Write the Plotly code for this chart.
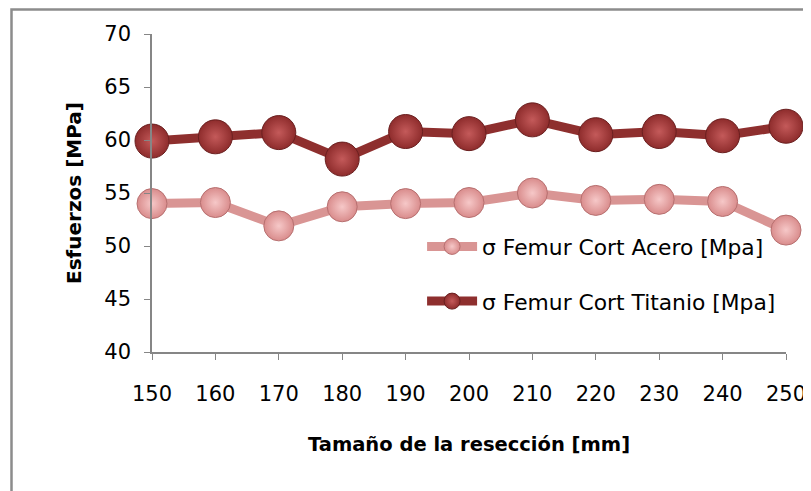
import plotly.graph_objects as go

x_vals = [150, 160, 170, 180, 190, 200, 210, 220, 230, 240, 250]
acero = [54.0, 54.1, 51.9, 53.7, 54.0, 54.1, 55.0, 54.3, 54.4, 54.2, 51.5]
titanio = [59.9, 60.3, 60.7, 58.2, 60.8, 60.6, 61.9, 60.5, 60.8, 60.4, 61.3]
y_ticks = [40, 45, 50, 55, 60, 65, 70]
name_acero = "σ Femur Cort Acero [Mpa]"
name_titanio = "σ Femur Cort Titanio [Mpa]"

FONT = "DejaVu Sans"

fig = go.Figure()
fig.add_trace(go.Scatter(
    x=x_vals, y=titanio, name=name_titanio, mode="lines+markers",
    line=dict(color="#8E2F2E", width=9),
    marker=dict(size=34, color="#8E2C2C",
                gradient=dict(type="radial", color="#C45A5A"),
                line=dict(color="#6A1F1F", width=1)),
    cliponaxis=False, legend="legend2",
))
fig.add_trace(go.Scatter(
    x=x_vals, y=acero, name=name_acero, mode="lines+markers",
    line=dict(color="#D99594", width=9),
    marker=dict(size=30, color="#D98C8C",
                gradient=dict(type="radial", color="#F6C8C8"),
                line=dict(color="#B77070", width=1)),
    cliponaxis=False, legend="legend",
))

fig.update_layout(
    width=811, height=491,
    margin=dict(l=144, r=33, t=26, b=147),
    paper_bgcolor="white", plot_bgcolor="white",
    font=dict(family=FONT, size=21, color="black"),
    showlegend=True,
    legend=dict(x=0.426, y=0.397, xanchor="left", yanchor="top",
                bgcolor="rgba(0,0,0,0)", itemwidth=50,
                font=dict(family=FONT, size=21.8)),
    legend2=dict(x=0.426, y=0.225, xanchor="left", yanchor="top",
                 bgcolor="rgba(0,0,0,0)", itemwidth=50,
                 font=dict(family=FONT, size=21.8)),
    xaxis=dict(
        range=[150, 250], tickvals=x_vals, ticks="outside", ticklen=6,
        tickcolor="#868686", showline=True, linecolor="#868686", linewidth=1.5,
        showgrid=False, zeroline=False, tickfont=dict(size=21),
        ticklabelstandoff=16,
        title=dict(text="<b>Tamaño de la resección [mm]</b>",
                   font=dict(family=FONT, size=19.5), standoff=32),
    ),
    yaxis=dict(
        range=[40, 70], tickvals=y_ticks, ticks="outside", ticklen=6,
        tickcolor="#868686", showline=True, linecolor="#868686", linewidth=1.5,
        showgrid=False, zeroline=False, tickfont=dict(size=21),
        ticklabelstandoff=9,
        title=dict(text="<b>Esfuerzos [MPa]</b>",
                   font=dict(family=FONT, size=20), standoff=17),
    ),
    shapes=[dict(type="rect", xref="paper", yref="paper",
                 x0=(11.5 - 152) / 634, x1=(830 - 152) / 634,
                 y0=(352 - 510) / 318, y1=(352 - 9.5) / 318,
                 line=dict(color="#8C8C8C", width=2.5), layer="below")],
)

fig.write_html("out.html")
